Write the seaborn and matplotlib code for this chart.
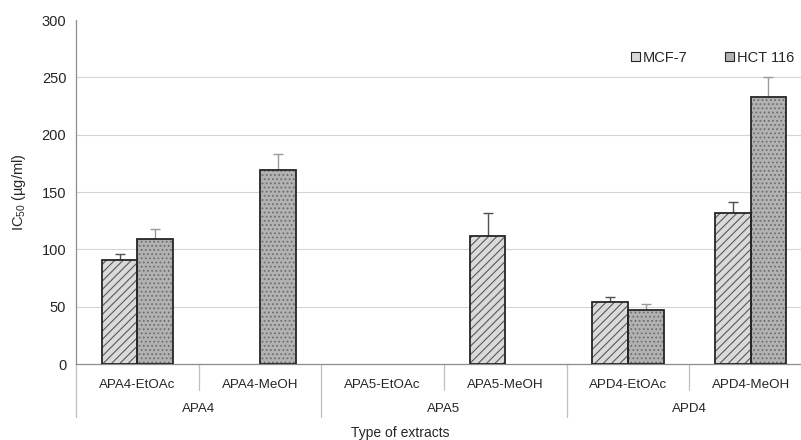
import matplotlib
matplotlib.use("Agg")
import matplotlib.pyplot as plt
import matplotlib.transforms as mtransforms
from matplotlib.patches import Patch, Rectangle
import numpy as np
import pandas as pd
import seaborn as sns

extracts = ["APA4-EtOAc", "APA4-MeOH", "APA5-EtOAc", "APA5-MeOH", "APD4-EtOAc", "APD4-MeOH"]
groups = ["APA4", "APA5", "APD4"]
cell_lines = ["MCF-7", "HCT 116"]

mcf7 = [91, np.nan, np.nan, 112, 54.5, 132]
mcf7_err = [4.5, np.nan, np.nan, 20, 4, 9.5]
hct116 = [109, 169, np.nan, np.nan, 47.5, 233]
hct116_err = [9, 14, np.nan, np.nan, 5, 17]

yticks = [0, 50, 100, 150, 200, 250, 300]

sns.set_style("white")
plt.rcParams["font.family"] = ["Liberation Sans", "DejaVu Sans"]
plt.rcParams["mathtext.fontset"] = "custom"
plt.rcParams["mathtext.rm"] = "Liberation Sans"
plt.rcParams["mathtext.it"] = "Liberation Sans"
plt.rcParams["hatch.linewidth"] = 0.8

df = pd.DataFrame({
    "extract": extracts * 2,
    "line": [cell_lines[0]] * 6 + [cell_lines[1]] * 6,
    "ic50": mcf7 + hct116,
})

fig = plt.figure(figsize=(8.01, 4.40), dpi=100)
ax = fig.add_axes([76 / 801, 1 - 364 / 440, 736 / 801, 344 / 440])

for v in yticks[1:-1]:
    ax.axhline(v, color="#d4d4d4", lw=0.8, zorder=0)

sns.barplot(data=df, x="extract", y="ic50", hue="line", order=extracts,
            hue_order=cell_lines, width=0.58, errorbar=None, ax=ax,
            legend=False, zorder=2)

# diagonal for MCF-7, fine stipple for HCT 116
styles = {
    "MCF-7": dict(fc="#dadada", hatch_c="#595959", hatch="////", err_c="#505050"),
    "HCT 116": dict(fc="#b2b2b2", hatch_c="#6e6e6e", hatch="....", err_c="#9a9a9a"),
}
errs = {"MCF-7": mcf7_err, "HCT 116": hct116_err}
vals = {"MCF-7": mcf7, "HCT 116": hct116}

for cont, name in zip(ax.containers, cell_lines):
    st = styles[name]
    e = [x for x, v in zip(errs[name], vals[name]) if not np.isnan(v)]
    xs, hs = [], []
    for p in cont.patches:
        p.set_facecolor(st["fc"])
        p.set_edgecolor(st["hatch_c"])
        p.set_hatch(st["hatch"])
        p.set_linewidth(0)
        ax.add_patch(Rectangle(p.get_xy(), p.get_width(), p.get_height(),
                               fill=False, ec="#262626", lw=1.3, zorder=3))
        xs.append(p.get_x() + p.get_width() / 2)
        hs.append(p.get_height())
    ax.errorbar(xs, hs, yerr=[np.zeros(len(e)), e], fmt="none",
                ecolor=st["err_c"], elinewidth=1, capsize=3.5, capthick=1, zorder=1)

ax.set_xlim(-0.5, 5.5)
ax.set_ylim(0, 300)
ax.set_yticks(yticks)
ax.tick_params(axis="y", labelsize=10.5, length=4, color="#8c8c8c", width=0.8, pad=3)
ax.set_xticks(range(len(extracts)))
ax.set_xticklabels(extracts, fontsize=9.6)
ax.tick_params(axis="x", length=0, pad=11)

for s in ["top", "right"]:
    ax.spines[s].set_visible(False)
for s in ["left", "bottom"]:
    ax.spines[s].set_color("#8c8c8c")
    ax.spines[s].set_linewidth(0.9)

trans = mtransforms.blended_transform_factory(ax.transData, ax.transAxes)
for xb in [0.5, 2.5, 4.5]:
    ax.plot([xb, xb], [0, -26 / 344], transform=trans, color="#bfbfbf", lw=0.9, clip_on=False)
for xb in [-0.5, 1.5, 3.5, 5.5]:
    ax.plot([xb, xb], [0, -53 / 344], transform=trans, color="#bfbfbf", lw=0.9, clip_on=False)
for i, g in enumerate(groups):
    ax.text(2 * i + 0.5, -45 / 344, g, transform=trans, ha="center", va="center", fontsize=9.6)

ax.set_xlabel("Type of extracts", fontsize=10)
ax.xaxis.set_label_coords((400 - 76) / 736, -62 / 344)
ax.set_ylabel("IC$_{50}$ (µg/ml)", fontsize=10.5)
ax.yaxis.set_label_coords(-48 / 736, 0.5)

handles = [Patch(facecolor=styles[n]["fc"], edgecolor="#262626", lw=0.8, label=n)
           for n in cell_lines]
ax.legend(handles=handles, loc="center left", bbox_to_anchor=(542 / 736, 1 - 38 / 344),
          ncol=2, frameon=False, fontsize=10.5, handlelength=0.6, handleheight=0.6,
          handletextpad=0.2, columnspacing=2.6)

fig.savefig("out.png", dpi=100)
